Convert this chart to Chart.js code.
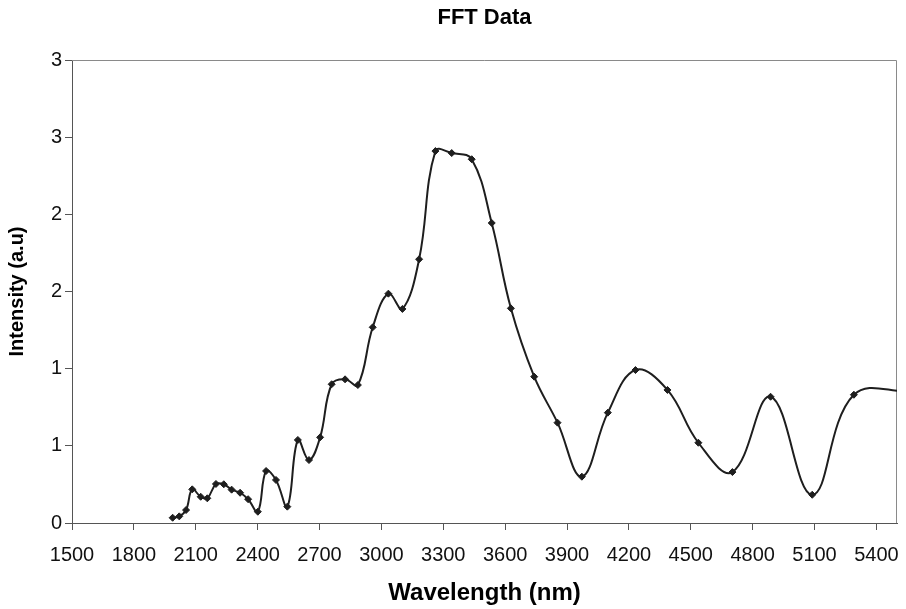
<!DOCTYPE html>
<html lang="en">
<head>
<meta charset="UTF-8">
<title>FFT Data</title>
<script src="https://cdn.jsdelivr.net/npm/chart.js"></script>
<style>
  body { margin: 0; background: #fff; }
</style>
</head>
<body>
<canvas id="fftChart" width="906" height="609"></canvas>
<script>
// values (last two lie past the right edge, the curve runs out of the frame)
const wavelength = [1988, 2020, 2053, 2083, 2124, 2156, 2198, 2236, 2274, 2315, 2354, 2401,
  2441, 2489, 2544, 2595, 2649, 2703, 2759, 2824, 2886, 2958, 3034, 3102, 3183,
  3262, 3341, 3438, 3535, 3628, 3741, 3854, 3972, 4098, 4232, 4387, 4537, 4702,
  4887, 5089, 5291, 5600, 5700];
const intensity = [0.034, 0.043, 0.084, 0.218, 0.170, 0.160, 0.253, 0.251, 0.216, 0.196, 0.154, 0.073,
  0.337, 0.279, 0.106, 0.538, 0.408, 0.555, 0.899, 0.931, 0.894, 1.268, 1.486, 1.387, 1.709,
  2.410, 2.397, 2.357, 1.944, 1.391, 0.948, 0.650, 0.300, 0.715, 0.991, 0.862, 0.520, 0.330,
  0.818, 0.183, 0.831, 0.86, 0.95];

const xTicks = [1500, 1800, 2100, 2400, 2700, 3000, 3300, 3600, 3900, 4200, 4500, 4800, 5100, 5400];
const xTickLabels = xTicks.map(String);
const yTicks = [0, 0.5, 1, 1.5, 2, 2.5, 3];
const yTickLabels = ['0', '1', '1', '2', '2', '3', '3'];

const FONT = "'Liberation Sans', Arial, sans-serif";

// top + right edge of the plot box
const frame = {
  id: 'frame',
  beforeDatasetsDraw(chart) {
    const { ctx, chartArea: a } = chart;
    ctx.save();
    ctx.strokeStyle = '#8a8a8a';
    ctx.lineWidth = 1;
    ctx.beginPath();
    ctx.moveTo(a.left, a.top + 0.5);
    ctx.lineTo(a.right - 0.5, a.top + 0.5);
    ctx.lineTo(a.right - 0.5, a.bottom);
    ctx.stroke();
    ctx.restore();
  }
};

new Chart(document.getElementById('fftChart'), {
  type: 'line',
  data: {
    datasets: [{
      data: wavelength.map((w, i) => ({ x: w, y: intensity[i] })),
      borderColor: '#1e1e1e',
      borderWidth: 2,
      tension: 0.4,
      pointStyle: 'rectRot',
      pointRadius: 3.5,
      pointBackgroundColor: '#1e1e1e',
      pointBorderColor: '#1e1e1e',
      pointBorderWidth: 1
    }]
  },
  options: {
    responsive: false,
    animation: false,
    layout: { padding: { left: 0, right: 9, top: 0, bottom: 0 } },
    plugins: {
      legend: { display: false },
      tooltip: { enabled: false },
      title: {
        display: true,
        text: 'FFT Data',
        fullSize: false,
        color: '#000',
        font: { family: FONT, size: 22, weight: 'bold' },
        padding: { top: 5, bottom: 28.6 }
      }
    },
    scales: {
      x: {
        type: 'linear',
        min: 1500,
        max: 5500,
        afterBuildTicks: s => { s.ticks = xTicks.map(v => ({ value: v })); },
        afterFit: s => { s.height = 86; s.paddingRight = 0; s.paddingLeft = 0; },
        grid: { display: true, drawOnChartArea: false, drawTicks: true, tickLength: 7, color: '#555' },
        border: { display: true, color: '#555', width: 1 },
        ticks: { color: '#111', padding: 13, maxRotation: 0, autoSkip: false,
          font: { family: FONT, size: 20 },
          callback: (v, i) => xTickLabels[i] },
        title: { display: true, text: 'Wavelength (nm)', color: '#000',
          font: { family: FONT, size: 24, weight: 'bold' }, padding: { top: 4, bottom: 1 } }
      },
      y: {
        min: 0,
        max: 3,
        afterBuildTicks: s => { s.ticks = yTicks.map(v => ({ value: v })); },
        afterFit: s => { s.width = 72; },
        grid: { display: true, drawOnChartArea: false, drawTicks: true, tickLength: 7, color: '#555' },
        border: { display: true, color: '#555', width: 1 },
        ticks: { color: '#111', padding: 3, font: { family: FONT, size: 20 },
          callback: (v, i) => yTickLabels[i] },
        title: { display: true, text: 'Intensity (a.u)', color: '#000',
          font: { family: FONT, size: 20, weight: 'bold' }, padding: { top: 5, bottom: 4 } }
      }
    }
  },
  plugins: [frame]
});
</script>
</body>
</html>
